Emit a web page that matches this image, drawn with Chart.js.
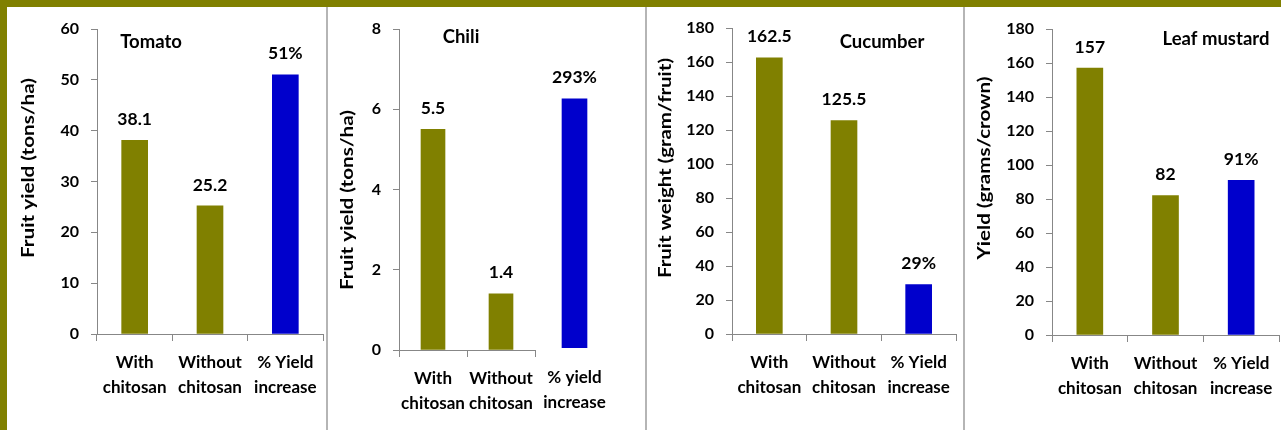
<!DOCTYPE html>
<html>
<head>
<meta charset="utf-8">
<script src="https://cdn.jsdelivr.net/npm/chart.js@4.4.1/dist/chart.umd.min.js"></script>
<style>
  html, body { margin: 0; padding: 0; background: #fff; }
  #page { position: relative; width: 1281px; height: 430px; overflow: hidden; background: #fff; }
  .band-top { position: absolute; left: 0; top: 0; width: 1281px; height: 7px; background: #808000; }
  .band-left { position: absolute; left: 0; top: 0; width: 7px; height: 430px; background: #808000; }
  .sep { position: absolute; top: 7px; width: 2px; height: 423px; background: #b5b5b5; }
  canvas { position: absolute; top: 0; }
</style>
</head>
<body>
<div id="page">
  <div class="band-top"></div>
  <div class="band-left"></div>
  <div class="sep" style="left:326px"></div>
  <div class="sep" style="left:645px"></div>
  <div class="sep" style="left:963px"></div>
  <canvas id="tomato" width="318" height="430" style="left:8px"></canvas>
  <canvas id="chili" width="317" height="430" style="left:328px"></canvas>
  <canvas id="chiliPct" width="100" height="430" style="left:540px"></canvas>
  <canvas id="cucumber" width="316" height="430" style="left:647px"></canvas>
  <canvas id="mustard" width="316" height="430" style="left:965px"></canvas>
</div>
<script>
// ---- data ----
const groupLabels = [['With', 'chitosan'], ['Without', 'chitosan'], ['% Yield', 'increase']];
const chiliGroupLabels = [['With', 'chitosan'], ['Without', 'chitosan']];
const chiliIncreaseLabel = [['% yield', 'increase']];

const tomatoYield = [38.1, 25.2, 51];        // tons/ha, tons/ha, % increase
const chiliYield = [5.5, 1.4];                // tons/ha
const chiliIncrease = [293];                  // % increase
const cucumberWeight = [162.5, 125.5, 29];    // gram/fruit, gram/fruit, % increase
const mustardYield = [157, 82, 91];           // grams/crown, grams/crown, % increase

const valueSuffix = ['', '', '%'];

const tomatoAxis = { max: 60, step: 10 };
const chiliAxis = { max: 8, step: 2 };
const chiliPctAxis = { max: 400 };
const cucumberAxis = { max: 180, step: 20 };
const mustardAxis = { max: 180, step: 20 };

// ---- styling ----
const FONT = 'Lato, "Open Sans", sans-serif';
const OLIVE = '#808000';
const BLUE = '#0000cc';
const AXIS = '#878787';
const barColors = [OLIVE, OLIVE, BLUE];
const PAGE_H = 430;
const LABEL_SIZE = 17.5;
const CAPTION_SIZE = 18.5;
const TITLE_SIZE = 16.5;
const CATEGORY_FONT = { family: FONT, size: 17, weight: 'bold', lineHeight: '25px' };
const TICK_FONT = { family: FONT, size: 16, weight: 'bold' };

// labels above each bar, read from the bar element's own position
function valueLabels(suffix, offset) {
  return {
    id: 'valueLabels',
    afterDatasetsDraw(chart) {
      const ctx = chart.ctx;
      chart.data.datasets.forEach((ds, di) => {
        chart.getDatasetMeta(di).data.forEach((bar, i) => {
          ctx.save();
          ctx.font = 'bold ' + LABEL_SIZE + 'px ' + FONT;
          ctx.fillStyle = '#000';
          ctx.textAlign = 'center';
          ctx.textBaseline = 'middle';
          ctx.fillText(String(ds.data[i]) + (suffix[i] || ''), bar.x, bar.y - offset);
          ctx.restore();
        });
      });
    }
  };
}

// panel caption and rotated axis title (the title is stretched to its set length)
function captions(items) {
  return {
    id: 'captions',
    afterDraw(chart) {
      const ctx = chart.ctx;
      items.forEach(it => {
        ctx.save();
        ctx.font = 'bold ' + it.size + 'px ' + FONT;
        ctx.fillStyle = '#000';
        ctx.textAlign = 'center';
        ctx.textBaseline = 'middle';
        ctx.translate(it.x, it.y);
        if (it.rotate) ctx.rotate(-Math.PI / 2);
        if (it.span) ctx.scale(it.span / ctx.measureText(it.text).width, 1);
        ctx.fillText(it.text, 0, 0);
        ctx.restore();
      });
    }
  };
}

// keeps the plot area at a fixed place inside its canvas
function fixedArea(area, canvasLeft, canvasWidth) {
  return {
    padding: { left: 0, top: area.top, right: canvasLeft + canvasWidth - area.right, bottom: 0 },
    yFit: s => { s.width = area.left - canvasLeft; s.paddingTop = 0; s.paddingBottom = 0; },
    xFit: s => { s.height = PAGE_H - area.bottom; s.paddingLeft = 0; s.paddingRight = 0; }
  };
}

function panel(p) {
  const fit = fixedArea(p.area, p.left, p.width);
  const items = p.captions.map(c => Object.assign({}, c, { x: c.x - p.left }));
  return new Chart(document.getElementById(p.id), {
    type: 'bar',
    data: {
      labels: p.labels,
      datasets: [{ data: p.values, backgroundColor: barColors, borderWidth: 0, barThickness: p.barThickness }]
    },
    options: {
      responsive: false,
      animation: false,
      devicePixelRatio: 1,
      layout: { padding: fit.padding },
      plugins: { legend: { display: false }, tooltip: { enabled: false } },
      scales: {
        x: {
          grid: { drawOnChartArea: false, tickLength: 7, color: AXIS },
          border: { color: AXIS, width: 1 },
          ticks: { color: '#000', padding: 9, maxRotation: 0, autoSkip: false, font: CATEGORY_FONT },
          afterFit: fit.xFit
        },
        y: {
          min: 0, max: p.axis.max,
          grid: { drawOnChartArea: false, tickLength: 6, color: AXIS },
          border: { color: AXIS, width: 1 },
          ticks: { stepSize: p.axis.step, color: '#000', padding: 12, font: TICK_FONT },
          afterFit: fit.yFit
        }
      }
    },
    plugins: [valueLabels(valueSuffix, 21), captions(items)]
  });
}

panel({
  id: 'tomato', left: 8, width: 318,
  area: { left: 97, right: 323, top: 29, bottom: 334 },
  labels: groupLabels, values: tomatoYield, axis: tomatoAxis, barThickness: 26,
  captions: [
    { text: 'Tomato', x: 151, y: 42, size: CAPTION_SIZE },
    { text: 'Fruit yield (tons/ha)', x: 29, y: 168, size: TITLE_SIZE, rotate: true, span: 180 }
  ]
});

panel({
  id: 'chili', left: 328, width: 317,
  area: { left: 399, right: 535, top: 29, bottom: 350 },
  labels: chiliGroupLabels, values: chiliYield, axis: chiliAxis, barThickness: 24,
  captions: [
    { text: 'Chili', x: 461, y: 37, size: CAPTION_SIZE },
    { text: 'Fruit yield (tons/ha)', x: 348, y: 200, size: TITLE_SIZE, rotate: true, span: 180 }
  ]
});

// the percentage bar for chili sits on its own hidden scale
(function () {
  const left = 540, width = 100;
  const area = { left: 549, right: 609, top: 8, bottom: 348 };
  const fit = fixedArea(area, left, width);
  new Chart(document.getElementById('chiliPct'), {
    type: 'bar',
    data: {
      labels: chiliIncreaseLabel,
      datasets: [{ data: chiliIncrease, backgroundColor: [BLUE], borderWidth: 0, barThickness: 25 }]
    },
    options: {
      responsive: false,
      animation: false,
      devicePixelRatio: 1,
      layout: { padding: fit.padding },
      plugins: { legend: { display: false }, tooltip: { enabled: false } },
      scales: {
        x: {
          grid: { display: false, drawTicks: false },
          border: { display: false },
          ticks: { color: '#000', padding: 17, maxRotation: 0, font: CATEGORY_FONT },
          afterFit: fit.xFit
        },
        y: { display: false, min: 0, max: chiliPctAxis.max }
      }
    },
    plugins: [valueLabels(['%'], 22)]
  });
})();

panel({
  id: 'cucumber', left: 647, width: 316,
  area: { left: 732, right: 956, top: 28, bottom: 334 },
  labels: groupLabels, values: cucumberWeight, axis: cucumberAxis, barThickness: 26,
  captions: [
    { text: 'Cucumber', x: 882, y: 42, size: CAPTION_SIZE },
    { text: 'Fruit weight (gram/fruit)', x: 666, y: 168, size: TITLE_SIZE, rotate: true, span: 220 }
  ]
});

panel({
  id: 'mustard', left: 965, width: 316,
  area: { left: 1052, right: 1279, top: 29, bottom: 335 },
  labels: groupLabels, values: mustardYield, axis: mustardAxis, barThickness: 26,
  captions: [
    { text: 'Leaf mustard', x: 1216, y: 39, size: CAPTION_SIZE },
    { text: 'Yield (grams/crown)', x: 985, y: 168, size: TITLE_SIZE, rotate: true, span: 183 }
  ]
});
</script>
</body>
</html>
